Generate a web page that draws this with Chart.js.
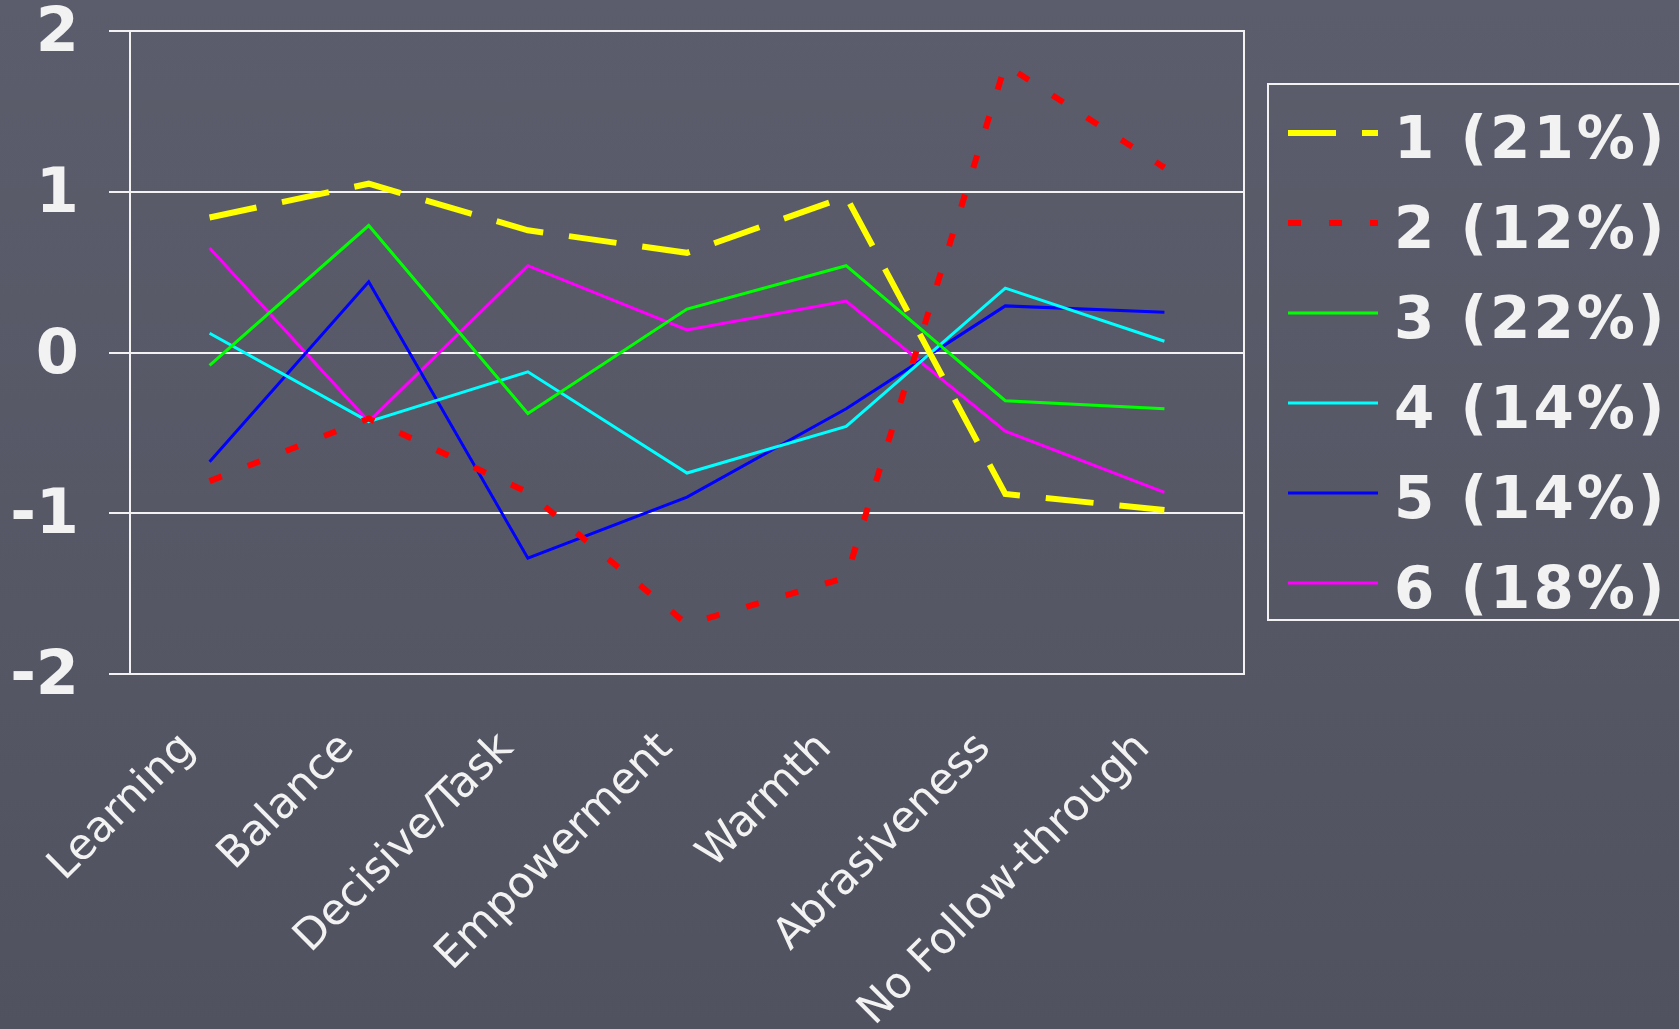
<!DOCTYPE html>
<html>
<head>
<meta charset="utf-8">
<script src="https://cdn.jsdelivr.net/npm/chart.js@4/dist/chart.umd.min.js"></script>
<style>
    html, body { margin: 0; padding: 0; overflow: hidden; }
    body {
        width: 1679px; height: 1029px;
        background: linear-gradient(180deg, #5b5d6c 0%, #555765 60%, #50525f 100%);
    }
    #wrap { position: relative; width: 1679px; height: 1029px; }
</style>
</head>
<body>
<div id="wrap"><canvas id="clusterChart"></canvas></div>
<script>
// Categorias e valores
const categories = ['Learning', 'Balance', 'Decisive/Task', 'Empowerment', 'Warmth', 'Abrasiveness', 'No Follow-through'];
const seriesNames = ['1 (21%)', '2 (12%)', '3 (22%)', '4 (14%)', '5 (14%)', '6 (18%)'];

const cluster1 = [0.84, 1.05, 0.76, 0.62, 0.97, -0.88, -0.98];
const cluster2 = [-0.80, -0.41, -0.87, -1.69, -1.40, 1.79, 1.15];
const cluster3 = [-0.08, 0.79, -0.38, 0.27, 0.54, -0.30, -0.35];
const cluster4 = [0.12, -0.43, -0.12, -0.75, -0.46, 0.40, 0.07];
const cluster5 = [-0.68, 0.44, -1.28, -0.90, -0.35, 0.29, 0.25];
const cluster6 = [0.65, -0.43, 0.54, 0.14, 0.32, -0.49, -0.87];

const yTickValues = [-2, -1, 0, 1, 2];

const WHITE = '#f2f2f2';
const FONT = "'DejaVu Sans', Verdana, sans-serif";

function lineDataset(label, data, color, width, dash) {
    return {
        label: label,
        data: data,
        borderColor: color,
        backgroundColor: color,
        borderWidth: width,
        borderDash: dash,
        borderCapStyle: 'butt',
        borderJoinStyle: 'miter',
        pointRadius: 0,
        pointHoverRadius: 0,
        tension: 0,
        fill: false
    };
}

// Borda do gráfico (topo e direita) por baixo das séries
const frameBorder = {
    id: 'frameBorder',
    beforeDatasetsDraw(chart) {
        const { ctx, chartArea } = chart;
        ctx.save();
        ctx.strokeStyle = WHITE;
        ctx.lineWidth = 2;
        ctx.strokeRect(chartArea.left, chartArea.top, chartArea.right - chartArea.left, chartArea.bottom - chartArea.top);
        ctx.restore();
    }
};

// Legenda desenhada à direita, com caixa branca
const boxLegend = {
    id: 'boxLegend',
    afterDraw(chart) {
        const ctx = chart.ctx;
        ctx.save();
        ctx.strokeStyle = WHITE;
        ctx.lineWidth = 2;
        ctx.strokeRect(1268, 84, 500, 536);

        chart.data.datasets.forEach((ds, i) => {
            const y = 133 + i * 90;
            ctx.beginPath();
            ctx.strokeStyle = ds.borderColor;
            ctx.lineWidth = ds.borderWidth;
            ctx.lineCap = 'butt';
            ctx.setLineDash(ds.borderDash || []);
            ctx.moveTo(1288, y);
            ctx.lineTo(1378, y);
            ctx.stroke();
            ctx.setLineDash([]);

            ctx.fillStyle = WHITE;
            ctx.font = 'bold 58px ' + FONT;
            ctx.letterSpacing = '3px';
            ctx.textAlign = 'left';
            ctx.textBaseline = 'alphabetic';
            ctx.fillText(ds.label, 1394, y + 25);
        });
        ctx.restore();
    }
};

const ctx = document.getElementById('clusterChart');

new Chart(ctx, {
    type: 'line',
    data: {
        labels: categories,
        datasets: [
            lineDataset(seriesNames[0], cluster1, '#ffff00', 6, [48, 26]),
            lineDataset(seriesNames[1], cluster2, '#ff0000', 6, [13, 28]),
            lineDataset(seriesNames[2], cluster3, '#00ff00', 3, []),
            lineDataset(seriesNames[3], cluster4, '#00ffff', 3, []),
            lineDataset(seriesNames[4], cluster5, '#0000ff', 3, []),
            lineDataset(seriesNames[5], cluster6, '#ff00ff', 3, [])
        ]
    },
    options: {
        responsive: true,
        maintainAspectRatio: false,
        animation: false,
        layout: {
            padding: { top: 31, left: 0, right: 435, bottom: 0 }
        },
        plugins: {
            legend: { display: false },
            tooltip: { enabled: false }
        },
        scales: {
            x: {
                offset: true,
                grid: { display: false, drawTicks: false },
                border: { display: true, color: WHITE, width: 2 },
                ticks: {
                    color: WHITE,
                    autoSkip: false,
                    maxRotation: 45,
                    minRotation: 45,
                    padding: 66,
                    labelOffset: -21,
                    font: { family: FONT, size: 43, lineHeight: 0.1 }
                },
                afterFit(scale) {
                    scale.height = 355;
                    scale.paddingLeft = 0;
                    scale.paddingRight = 0;
                }
            },
            y: {
                min: -2,
                max: 2,
                afterBuildTicks(scale) {
                    scale.ticks = yTickValues.map(v => ({ value: v }));
                },
                grid: {
                    color: WHITE,
                    lineWidth: 2,
                    drawTicks: true,
                    tickLength: 21
                },
                border: { display: true, color: WHITE, width: 2 },
                ticks: {
                    color: WHITE,
                    padding: 30,
                    labelOffset: 4,
                    font: { family: FONT, size: 62, weight: 'bold' }
                },
                afterFit(scale) {
                    scale.width = 130;
                    scale.paddingTop = 0;
                    scale.paddingBottom = 0;
                }
            }
        }
    },
    plugins: [frameBorder, boxLegend]
});
</script>
</body>
</html>
